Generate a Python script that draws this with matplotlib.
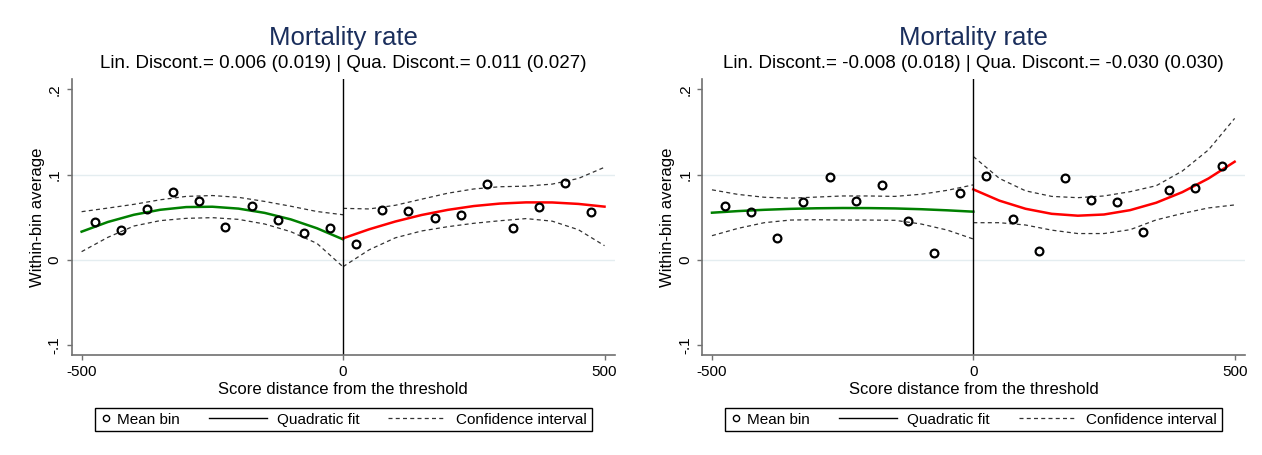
import numpy as np
import matplotlib.pyplot as plt
from matplotlib.lines import Line2D
from matplotlib.legend_handler import HandlerBase

plt.rcParams['font.family'] = ['Liberation Sans', 'DejaVu Sans']

# bin centres and the x grid the fitted curves were read on
bins_left = [-475, -425, -375, -325, -275, -225, -175, -125, -75, -25]
bins_right = [25, 75, 125, 175, 225, 275, 325, 375, 425, 475]
grid_left = [-500, -450, -400, -350, -300, -250, -200, -150, -100, -50, 0]
grid_right = [0, 50, 100, 150, 200, 250, 300, 350, 400, 450, 500]

# panel 1
p1_mean_left = [0.0448, 0.0355, 0.0594, 0.0800, 0.0694, 0.0383, 0.0632, 0.0472, 0.0320, 0.0378]
p1_mean_right = [0.0184, 0.0582, 0.0574, 0.0488, 0.0531, 0.0886, 0.0378, 0.0617, 0.0898, 0.0558]
p1_fit_left = [0.0332, 0.0445, 0.0530, 0.0588, 0.0620, 0.0624, 0.0602, 0.0552, 0.0476, 0.0372, 0.0242]
p1_hi_left = [0.0566, 0.0608, 0.0652, 0.0705, 0.0745, 0.0755, 0.0734, 0.0686, 0.0630, 0.0568, 0.0530]
p1_lo_left = [0.0098, 0.0265, 0.0398, 0.0461, 0.0488, 0.0496, 0.0476, 0.0422, 0.0332, 0.0195, -0.0080]
p1_fit_right = [0.0254, 0.0360, 0.0451, 0.0527, 0.0587, 0.0632, 0.0661, 0.0675, 0.0674, 0.0657, 0.0625]
p1_hi_right = [0.0605, 0.0598, 0.0641, 0.0712, 0.0782, 0.0832, 0.0858, 0.0865, 0.0889, 0.0955, 0.1086]
p1_lo_right = [-0.0078, 0.0120, 0.0260, 0.0340, 0.0390, 0.0430, 0.0460, 0.0485, 0.0455, 0.0355, 0.0168]
p1_sub = "Lin. Discont.= 0.006 (0.019) | Qua. Discont.= 0.011 (0.027)"

# panel 2
p2_mean_left = [0.0628, 0.0558, 0.0258, 0.0679, 0.0976, 0.0695, 0.0878, 0.0453, 0.0078, 0.0785]
p2_mean_right = [0.0984, 0.0476, 0.0101, 0.0964, 0.0699, 0.0675, 0.0332, 0.0824, 0.0847, 0.1097]
p2_fit_left = [0.0554, 0.0573, 0.0588, 0.0599, 0.0606, 0.0609, 0.0608, 0.0604, 0.0595, 0.0582, 0.0566]
p2_hi_left = [0.0822, 0.0768, 0.0735, 0.0724, 0.0737, 0.0750, 0.0750, 0.0745, 0.0770, 0.0816, 0.0880]
p2_lo_left = [0.0285, 0.0371, 0.0437, 0.0468, 0.0472, 0.0468, 0.0468, 0.0465, 0.0422, 0.0351, 0.0246]
p2_fit_right = [0.0827, 0.0695, 0.0600, 0.0541, 0.0519, 0.0533, 0.0584, 0.0671, 0.0795, 0.0955, 0.1151]
p2_hi_right = [0.1212, 0.0955, 0.0810, 0.0745, 0.0730, 0.0750, 0.0800, 0.0870, 0.1042, 0.1290, 0.1658]
p2_lo_right = [0.0437, 0.0437, 0.0410, 0.0350, 0.0310, 0.0310, 0.0355, 0.0470, 0.0545, 0.0610, 0.0645]
p2_sub = "Lin. Discont.= -0.008 (0.018) | Qua. Discont.= -0.030 (0.030)"

title = "Mortality rate"
xlabel = "Score distance from the threshold"
ylabel = "Within-bin average"
xticks = [-500, 0, 500]
xtick_labels = ["-500", "0", "500"]
yticks = [-0.1, 0, 0.1, 0.2]
ytick_labels = ["-.1", "0", ".1", ".2"]
grid_y = [0, 0.1]
legend_labels = ["Mean bin", "Quadratic fit", "Confidence interval"]

axis_grey = '#707070'
ci_style = dict(color='#333333', lw=0.9, dashes=(3.2, 2.6))


class LongHandle(HandlerBase):
    # stata-like key: line sample reaches left past the (short) key box
    def create_artists(self, legend, orig_handle, xdescent, ydescent,
                       width, height, fontsize, trans):
        y = height / 2 - ydescent
        x1 = -xdescent + width - 0.3 * fontsize
        x0 = x1 - 3.8 * fontsize
        line = Line2D([x0, x1], [y, y])
        self.update_prop(line, orig_handle, legend)
        line.set_transform(trans)
        return [line]


def panel(ax, mean_l, mean_r, fit_l, fit_r, hi_l, lo_l, hi_r, lo_r, sub):
    for g in grid_y:
        ax.axhline(g, color='#e4edf0', lw=1.0, zorder=0)

    ax.plot(grid_left, hi_l, **ci_style)
    ax.plot(grid_left, lo_l, **ci_style)
    ax.plot(grid_right, hi_r, **ci_style)
    ax.plot(grid_right, lo_r, **ci_style)

    ax.plot(grid_left, fit_l, color='#008000', lw=1.8)
    ax.plot(grid_right, fit_r, color='#ff0000', lw=1.8)

    ax.plot(bins_left, mean_l, 'o', ms=5.6, mfc='none', mec='black', mew=1.6)
    ax.plot(bins_right, mean_r, 'o', ms=5.6, mfc='none', mec='black', mew=1.6)

    ax.axvline(0, color='black', lw=1.0)

    ax.set_xlim(-519, 520)
    ax.set_ylim(-0.1112, 0.2116)
    ax.set_xticks(xticks)
    ax.set_xticklabels(xtick_labels)
    ax.set_yticks(yticks)
    ax.set_yticklabels(ytick_labels, rotation=90, va='center')
    ax.tick_params(direction='out', length=3.6, width=1.0, color=axis_grey,
                   labelsize=11, pad=3.5)
    for s in ['top', 'right']:
        ax.spines[s].set_visible(False)
    for s in ['left', 'bottom']:
        ax.spines[s].set_color(axis_grey)
        ax.spines[s].set_linewidth(1.2)

    ax.set_xlabel(xlabel, fontsize=12, labelpad=2)
    ax.set_ylabel(ylabel, fontsize=12, labelpad=2)

    ax.text(0.5, 1.1244, title, transform=ax.transAxes, ha='center',
            va='baseline', fontsize=18.5, color='#1a2e5c')
    ax.text(0.5, 1.040, sub, transform=ax.transAxes, ha='center',
            va='baseline', fontsize=13.5)

    h_mean = Line2D([], [], ls='none', marker='o', ms=4.5, mfc='none',
                    mec='black', mew=1.0)
    h_fit = Line2D([], [], color='black', lw=1.0)
    h_ci = Line2D([], [], **ci_style)
    leg = ax.legend([h_mean, h_fit, h_ci], legend_labels, loc='upper center',
                    bbox_to_anchor=(0.5, -0.192), ncol=3, numpoints=1,
                    handlelength=0.8, handletextpad=0.34, columnspacing=5.2,
                    borderpad=0.3, borderaxespad=0, fontsize=11,
                    fancybox=False, edgecolor='black', framealpha=1,
                    handler_map={h_fit: LongHandle(), h_ci: LongHandle()})
    leg.get_frame().set_linewidth(1.0)


fig = plt.figure(figsize=(12.62, 4.55), dpi=100)
ax1 = fig.add_axes([0.0568, 0.2198, 0.4305, 0.6059])
ax2 = fig.add_axes([0.5563, 0.2198, 0.4303, 0.6059])

panel(ax1, p1_mean_left, p1_mean_right, p1_fit_left, p1_fit_right,
      p1_hi_left, p1_lo_left, p1_hi_right, p1_lo_right, p1_sub)
panel(ax2, p2_mean_left, p2_mean_right, p2_fit_left, p2_fit_right,
      p2_hi_left, p2_lo_left, p2_hi_right, p2_lo_right, p2_sub)

fig.savefig("out.png", dpi=100)
